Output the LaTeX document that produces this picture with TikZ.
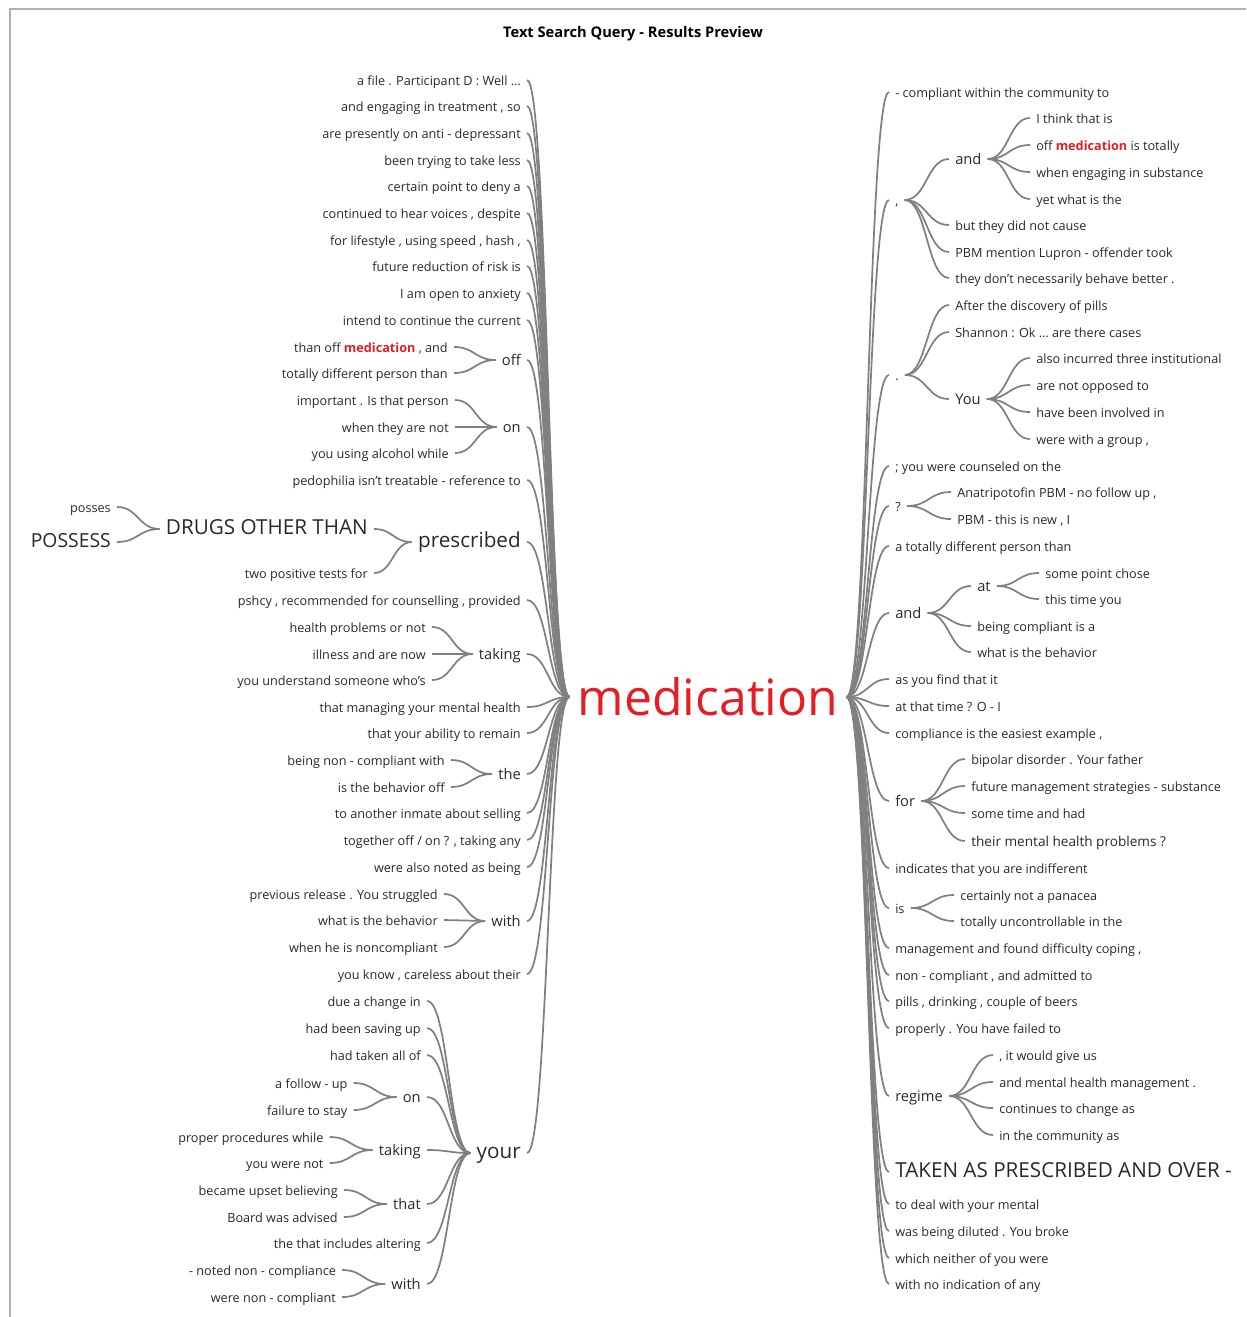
\documentclass[tikz,border=0pt]{standalone}
\usepackage{fontspec}
\setmainfont{Open Sans}
\definecolor{medred}{RGB}{228,30,36}
\definecolor{twiggray}{RGB}{128,128,128}
\definecolor{inkgray}{RGB}{40,40,40}
\usetikzlibrary{calc}
\newcommand{\kw}[1]{\textcolor{medred}{\bfseries #1}}
\newcommand{\twig}[2]{\draw[twigline] let \p1=(#1.east), \p2=(#2.west) in
  (\p1) .. controls ({0.5*\x1+0.5*\x2},\y1) and ({0.5*\x1+0.5*\x2},\y2) .. (\p2);}

\begin{document}
\begin{tikzpicture}[x=0.75pt, y=-0.75pt,
    every node/.style={text=inkgray, inner xsep=4.5pt, inner ysep=1pt},
    lw/.style={anchor=east}, rw/.style={anchor=west},
    wsmall/.style={font=\fontsize{9.5}{11}\selectfont, text height=0.9em, text depth=0.12em},
    wmid/.style={font=\fontsize{11}{13}\selectfont, text height=0.9em, text depth=0.12em},
    wbig/.style={font=\fontsize{15.5}{18}\selectfont, text height=0.9em, text depth=0.12em},
    twigline/.style={draw=twiggray, line width=1.3pt}]
    \useasboundingbox (0,0) rectangle (1246,1317);
    \draw[gray!60, line width=0.8pt] (10,1317) -- (10,9) -- (1246,9);
    \node[font=\bfseries\fontsize{11}{13}\selectfont, text=black] (title) at (633,34) {Text Search Query - Results Preview};
    \node[font=\fontsize{37.5}{44}\selectfont, text=medred, inner xsep=6pt] (med) at (708,697) {medication};

    % left side
    \node[wmid, lw] (loff) at (527,360) {off};
    \node[wmid, lw] (lon) at (527,427) {on};
    \node[wbig, lw] (lpresc) at (527,542) {prescribed};
    \node[wmid, lw] (ltaking) at (527,654) {taking};
    \node[wmid, lw] (lthe) at (527,774) {the};
    \node[wmid, lw] (lwith) at (527,921) {with};
    \node[wbig, lw] (lyour) at (527,1153) {your};
    \foreach \nm in {loff,lon,lpresc,ltaking,lthe,lwith,lyour}
        \twig{\nm}{med};
    \foreach \nm/\yy/\tx in {l1/80/{a file . Participant D : Well …},
        l2/106/{and engaging in treatment , so}, l3/133/{are presently on anti - depressant},
        l4/160/{been trying to take less}, l5/186/{certain point to deny a},
        l6/213/{continued to hear voices , despite}, l7/240/{for lifestyle , using speed , hash ,},
        l8/266/{future reduction of risk is}, l9/293/{I am open to anxiety},
        l10/320/{intend to continue the current}, l13/480/{pedophilia isn't treatable - reference to},
        l15/600/{pshcy , recommended for counselling , provided}, l17/707/{that managing your mental health},
        l18/733/{that your ability to remain}, l20/813/{to another inmate about selling},
        l21/840/{together off / on ? , taking any}, l22/867/{were also noted as being},
        l24/974/{you know , careless about their}}{
        \node[wsmall, lw] (\nm) at (527,\yy) {\tx};
        \twig{\nm}{med}
    }
    \foreach \nm/\yy/\tx in {off1/347/{than off \kw{medication} , and}, off2/373/{totally different person than}}{
        \node[wsmall, lw] (\nm) at (454,\yy) {\tx};
        \twig{\nm}{loff}
    }
    \foreach \nm/\yy/\tx in {on1/400/{important . Is that person}, on2/427/{when they are not},
        on3/453/{you using alcohol while}}{
        \node[wsmall, lw] (\nm) at (455,\yy) {\tx};
        \twig{\nm}{lon}
    }
    \node[wbig, lw] (drugs) at (374,529) {DRUGS OTHER THAN};
    \node[wsmall, lw] (tests) at (374,573) {two positive tests for};
    \twig{drugs}{lpresc}
    \twig{tests}{lpresc}
    \node[wsmall, lw] (posses) at (117,507) {posses};
    \node[wbig, lw, font=\fontsize{14.5}{17}\selectfont] (possess) at (117,542) {POSSESS};
    \twig{posses}{drugs}
    \twig{possess}{drugs}
    \foreach \nm/\yy/\tx in {tk1/627/{health problems or not}, tk2/654/{illness and are now},
        tk3/680/{you understand someone who's}}{
        \node[wsmall, lw] (\nm) at (432,\yy) {\tx};
        \twig{\nm}{ltaking}
    }
    \foreach \nm/\yy/\tx in {th1/760/{being non - compliant with}, th2/787/{is the behavior off}}{
        \node[wsmall, lw] (\nm) at (451,\yy) {\tx};
        \twig{\nm}{lthe}
    }
    \foreach \nm/\yy/\tx in {wi1/894/{previous release . You struggled}, wi2/920/{what is the behavior},
        wi3/947/{when he is noncompliant}}{
        \node[wsmall, lw] (\nm) at (444,\yy) {\tx};
        \twig{\nm}{lwith}
    }

    % under "your"
    \node[wmid, lw] (yon) at (427,1097) {on};
    \node[wmid, lw] (ytaking) at (427,1150) {taking};
    \node[wmid, lw] (ythat) at (427,1204) {that};
    \node[wmid, lw] (ywith) at (427,1284) {with};
    \foreach \nm in {yon,ytaking,ythat,ywith}
        \twig{\nm}{lyour};
    \foreach \nm/\yy/\tx in {y1/1001/{due a change in}, y2/1028/{had been saving up},
        y3/1055/{had taken all of}, y7/1243/{the that includes altering}}{
        \node[wsmall, lw] (\nm) at (427,\yy) {\tx};
        \twig{\nm}{lyour}
    }
    \foreach \nm/\yy/\tx/\up in {yo1/1083/{a follow - up}/yon, yo2/1110/{failure to stay}/yon,
        yt1/1137/{proper procedures while}/ytaking, yt2/1163/{you were not}/ytaking,
        yh1/1190/{became upset believing}/ythat, yh2/1217/{Board was advised}/ythat,
        yw1/1270/{- noted non - compliance}/ywith, yw2/1297/{were non - compliant}/ywith}{
        \path (\up.west) ++(-43,0) coordinate (tip);
        \node[wsmall, lw] (\nm) at (tip |- 0,\yy) {\tx};
        \twig{\nm}{\up}
    }

    % right side
    \node[wsmall, rw] (rcomma) at (889,200) {,};
    \node[wsmall, rw] (rdot) at (889,375) {.};
    \node[wsmall, rw] (rq) at (889,506) {?};
    \node[wmid, rw] (rand) at (889,613) {and};
    \node[wmid, rw] (rfor) at (889,801) {for};
    \node[wsmall, rw] (ris) at (889,908) {is};
    \node[wmid, rw] (rregime) at (889,1096) {regime};
    \node[wbig, rw] (rtaken) at (889,1172) {TAKEN AS PRESCRIBED AND OVER -};
    \foreach \nm in {rcomma,rdot,rq,rand,rfor,ris,rregime,rtaken}
        \twig{med}{\nm};
    \foreach \nm/\yy/\tx in {r1/92/{- compliant within the community to},
        r4/466/{; you were counseled on the}, r6/546/{a totally different person than},
        r8/679/{as you find that it}, r9/706/{at that time ? O - I},
        r10/733/{compliance is the easiest example ,}, r12/868/{indicates that you are indifferent},
        r14/948/{management and found difficulty coping ,}, r15/975/{non - compliant , and admitted to},
        r16/1001/{pills , drinking , couple of beers}, r17/1028/{properly . You have failed to},
        r20/1204/{to deal with your mental}, r21/1231/{was being diluted . You broke},
        r22/1258/{which neither of you were}, r23/1284/{with no indication of any}}{
        \node[wsmall, rw] (\nm) at (889,\yy) {\tx};
        \twig{med}{\nm}
    }
    % under ","
    \node[wmid, rw] (rcand) at (949,159) {and};
    \twig{rcomma}{rcand}
    \foreach \nm/\yy/\tx in {rc2/225/{but they did not cause}, rc3/252/{PBM mention Lupron - offender took},
        rc4/278/{they don't necessarily behave better .}}{
        \node[wsmall, rw] (\nm) at (949,\yy) {\tx};
        \twig{rcomma}{\nm}
    }
    \foreach \nm/\yy/\tx in {ra1/118/{I think that is}, ra2/145/{off \kw{medication} is totally},
        ra3/172/{when engaging in substance}, ra4/199/{yet what is the}}{
        \node[wsmall, rw] (\nm) at (1030,\yy) {\tx};
        \twig{rcand}{\nm}
    }
    % under "."
    \node[wmid, rw] (ryou) at (949,399) {You};
    \twig{rdot}{ryou}
    \foreach \nm/\yy/\tx in {rd1/305/{After the discovery of pills}, rd2/332/{Shannon : Ok … are there cases}}{
        \node[wsmall, rw] (\nm) at (949,\yy) {\tx};
        \twig{rdot}{\nm}
    }
    \foreach \nm/\yy/\tx in {ry1/358/{also incurred three institutional}, ry2/385/{are not opposed to},
        ry3/412/{have been involved in}, ry4/439/{were with a group ,}}{
        \node[wsmall, rw] (\nm) at (1030,\yy) {\tx};
        \twig{ryou}{\nm}
    }
    % under "?"
    \foreach \nm/\yy/\tx in {rq1/492/{Anatripotofin PBM - no follow up ,}, rq2/519/{PBM - this is new , I}}{
        \node[wsmall, rw] (\nm) at (951,\yy) {\tx};
        \twig{rq}{\nm}
    }
    % under "and"
    \node[wmid, rw] (rat) at (971,586) {at};
    \twig{rand}{rat}
    \foreach \nm/\yy/\tx in {rn2/626/{being compliant is a}, rn3/652/{what is the behavior}}{
        \node[wsmall, rw] (\nm) at (971,\yy) {\tx};
        \twig{rand}{\nm}
    }
    \foreach \nm/\yy/\tx in {rt1/573/{some point chose}, rt2/599/{this time you}}{
        \node[wsmall, rw] (\nm) at (1039,\yy) {\tx};
        \twig{rat}{\nm}
    }
    % under "for"
    \foreach \nm/\yy/\tx in {rf1/759/{bipolar disorder . Your father}, rf2/786/{future management strategies - substance},
        rf3/813/{some time and had}}{
        \node[wsmall, rw] (\nm) at (965,\yy) {\tx};
        \twig{rfor}{\nm}
    }
    \node[wsmall, rw, font=\fontsize{10.2}{12}\selectfont] (rf4) at (965,841) {their mental health problems ?};
    \twig{rfor}{rf4}
    % under "is"
    \foreach \nm/\yy/\tx in {ri1/895/{certainly not a panacea}, ri2/921/{totally uncontrollable in the}}{
        \node[wsmall, rw] (\nm) at (954,\yy) {\tx};
        \twig{ris}{\nm}
    }
    % under "regime"
    \foreach \nm/\yy/\tx in {rr1/1055/{, it would give us}, rr2/1082/{and mental health management .},
        rr3/1108/{continues to change as}, rr4/1135/{in the community as}}{
        \node[wsmall, rw] (\nm) at (993,\yy) {\tx};
        \twig{rregime}{\nm}
    }
\end{tikzpicture}
\end{document}
